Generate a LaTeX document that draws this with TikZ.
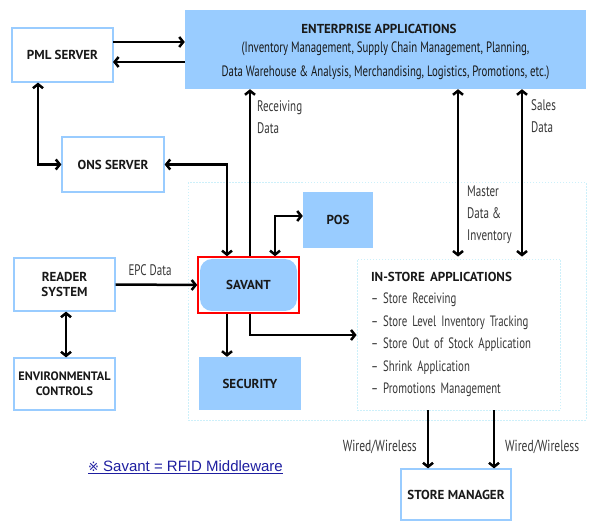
\documentclass[tikz,border=0pt]{standalone}
\usepackage{fontspec}
\setmainfont[FakeStretch=0.72, BoldFeatures={FakeStretch=1.0}]{PT Sans}
\newfontfamily\symfont{DejaVu Sans}
\newfontfamily\notefont{Liberation Sans}
\usetikzlibrary{arrows.meta}
\definecolor{lblue}{RGB}{153,204,255}
\definecolor{faint}{RGB}{205,240,250}
\definecolor{txt}{RGB}{25,25,25}
\definecolor{lbl}{RGB}{55,55,55}
\definecolor{linkblue}{RGB}{30,30,160}
\tikzset{
  wbox/.style={draw=lblue, line width=1.2pt, fill=white, font=\bfseries\fontsize{13}{15}\selectfont, text=txt, align=center, inner sep=0pt},
  fbox/.style={fill=lblue, font=\bfseries\fontsize{13}{15}\selectfont, text=txt, align=center, inner sep=0pt},
  arr/.style={line width=2.5pt, -{Straight Barb[length=4pt,width=10pt]}},
  dbl/.style={line width=2.5pt, {Straight Barb[length=4pt,width=10pt]}-{Straight Barb[length=4pt,width=10pt]}},
  lab/.style={font=\fontsize{15.3}{22}\selectfont, text=lbl, align=left, inner sep=0pt},
}
\begin{document}
\begin{tikzpicture}[x=1pt,y=-1pt]
\useasboundingbox (0,0) rectangle (589,521);
% faint store region
\draw[faint, line width=1pt, dash pattern=on 1.5pt off 1.5pt] (188,183) rectangle (586,420);
% nodes
\node[fbox, minimum width=401pt, minimum height=79pt] (ent) at (385.5,49.5) {};
\node[font=\bfseries\fontsize{13}{14}\selectfont, text=txt, inner sep=0pt] (entt) at (379,29) {ENTERPRISE APPLICATIONS};
\node[font=\fontsize{15}{24}\selectfont, text=txt, align=center, inner sep=0pt] (entb) at (385.5,61) {(Inventory Management, Supply Chain Management, Planning,\\Data Warehouse \& Analysis, Merchandising, Logistics, Promotions, etc.)};
\node[wbox, minimum width=101pt, minimum height=54pt] (pml) at (62.5,55) {PML SERVER};
\node[wbox, minimum width=102pt, minimum height=55pt] (ons) at (113,164.5) {ONS SERVER};
\node[fbox, minimum width=70pt, minimum height=56pt] (pos) at (338,220) {POS};
\node[draw=red, line width=1.5pt, minimum width=101pt, minimum height=56pt, inner sep=0pt] (sav) at (248.5,285) {};
\node[fill=lblue, rounded corners=12pt, minimum width=97pt, minimum height=52pt, font=\bfseries\fontsize{13}{15}\selectfont, text=txt, inner sep=0pt] (savi) at (sav.center) {SAVANT};
\node[wbox, minimum width=101pt, minimum height=53pt] (rdr) at (64.5,284.5) {READER\\SYSTEM};
\node[wbox, minimum width=101pt, minimum height=52pt, font=\bfseries\fontsize{12.2}{15}\selectfont] (env) at (64.5,384) {ENVIRONMENTAL\\CONTROLS};
\node[fbox, minimum width=102pt, minimum height=53pt] (sec) at (250,383.5) {SECURITY};
\node[wbox, minimum width=110pt, minimum height=51pt] (sm) at (456,494.5) {STORE MANAGER};
\node[draw=faint, line width=0.8pt, dash pattern=on 1.5pt off 1.5pt, minimum width=203pt, minimum height=151pt, text width=175pt, inner xsep=14pt, align=left, font=\fontsize{15}{22.4}\selectfont, text=lbl] (isa) at (458.5,334.5)
{{\bfseries\fontsize{13}{22.4}\selectfont\color{txt}IN-STORE APPLICATIONS}\\
– Store Receiving\\
– Store Level Inventory Tracking\\
– Store Out of Stock Application\\
– Shrink Application\\
– Promotions Management};
% connectors
\coordinate (a1) at (113,42);
\coordinate (a2) at (113,62);
\draw[arr] (a1) -- (a1 -| ent.west);
\draw[arr] (a2 -| ent.west) -- (a2);
\coordinate (c1) at (38,164.5);
\draw[dbl] (c1 |- pml.south) -- (c1) -- (ons.west);
\coordinate (c2) at (227,164.5);
\draw[dbl] (ons.east) -- (c2) -- (c2 |- sav.north);
\coordinate (c3) at (250,100);
\draw[arr] (c3 |- sav.north) -- (c3 |- ent.south);
\node[lab, anchor=north west] (recv) at (257,100) {Receiving\\Data};
\coordinate (c4) at (275,216);
\draw[dbl] (c4 |- sav.north) -- (c4) -- (c4 -| pos.west);
\draw[arr] (rdr.east) -- (sav.west);
\node[lab] (epc) at (150,270) {EPC Data};
\coordinate (c5) at (66,300);
\draw[dbl] (c5 |- rdr.south) -- (c5 |- env.north);
\coordinate (c6) at (227,330);
\draw[arr] (c6 |- sav.south) -- (c6 |- sec.north);
\coordinate (c7) at (250,335);
\draw[arr] (c7 |- sav.south) -- (c7) -- (c7 -| isa.west);
\coordinate (c8) at (458,200);
\coordinate (c9) at (522,200);
\draw[dbl] (c8 |- ent.south) -- ([yshift=2pt]c8 |- isa.north);
\draw[dbl] (c9 |- ent.south) -- ([yshift=2pt]c9 |- isa.north);
\node[lab, anchor=north west] (mdi) at (467,186) {Master\\Data \&\\Inventory};
\node[lab, anchor=north west] (sd) at (531,99) {Sales\\Data};
\coordinate (d1) at (428,450);
\coordinate (d2) at (494,450);
\draw[arr] (d1 |- isa.south) -- (d1 |- sm.north);
\draw[arr] (d2 |- isa.south) -- (d2 |- sm.north);
\node[lab, anchor=east, font=\fontsize{16}{18}\selectfont] (w1) at (417,447) {Wired/Wireless};
\node[lab, anchor=west, font=\fontsize{16}{18}\selectfont] (w2) at (505,447) {Wired/Wireless};
\node[font=\notefont\fontsize{15}{17}\selectfont, text=linkblue, inner sep=0pt] (note) at (185.5,467) {\underline{{\symfont\fontsize{13}{16}\selectfont ※} Savant = RFID Middleware}};
\end{tikzpicture}
\end{document}
